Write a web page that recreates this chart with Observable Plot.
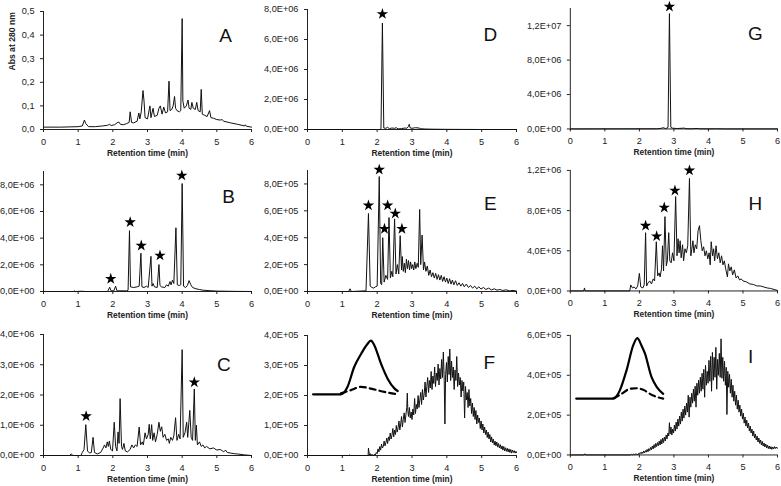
<!DOCTYPE html>
<html><head><meta charset="utf-8">
<script src="https://cdn.jsdelivr.net/npm/d3@7"></script>
<script src="https://cdn.jsdelivr.net/npm/@observablehq/plot@0.6"></script>
<style>
body{margin:0;background:#fff;}
#wrap{position:relative;width:781px;height:486px;overflow:hidden;background:#fff;}
.panel{position:absolute;}
.panel svg{overflow:visible;}
</style></head><body><div id="wrap"></div>
<script>
// ---------- DATA (time in min, values in the unit stated per panel) ----------
const xTicks = [0,1,2,3,4,5,6];
const xTitle = "Retention time (min)";
const yTitleA = "Abs at 280 nm";

// A: absorbance (AU)
const traceA = [[0,0.01],[0.5,0.01],[1.0,0.012],[1.12,0.015],[1.18,0.04],[1.22,0.025],[1.3,0.012],[1.5,0.012],[1.7,0.015],[1.85,0.018],[1.9,0.022],[1.95,0.017],[2.05,0.02],[2.12,0.028],[2.17,0.032],[2.22,0.022],[2.3,0.02],[2.4,0.025],[2.47,0.03],[2.5,0.075],[2.54,0.03],[2.6,0.028],[2.7,0.035],[2.75,0.07],[2.78,0.045],[2.82,0.075],[2.87,0.165],[2.9,0.12],[2.93,0.05],[3.0,0.045],[3.07,0.1],[3.1,0.05],[3.16,0.09],[3.2,0.055],[3.28,0.06],[3.33,0.09],[3.37,0.1],[3.42,0.065],[3.47,0.095],[3.52,0.07],[3.58,0.075],[3.62,0.205],[3.65,0.08],[3.7,0.085],[3.74,0.1],[3.78,0.14],[3.81,0.09],[3.85,0.08],[3.92,0.075],[3.96,0.08],[4.0,0.47],[4.02,0.12],[4.06,0.09],[4.12,0.1],[4.17,0.125],[4.2,0.09],[4.25,0.085],[4.28,0.115],[4.32,0.09],[4.38,0.085],[4.42,0.115],[4.46,0.08],[4.52,0.075],[4.55,0.17],[4.58,0.065],[4.65,0.06],[4.72,0.055],[4.79,0.08],[4.83,0.05],[4.9,0.048],[5.0,0.042],[5.1,0.04],[5.15,0.042],[5.2,0.035],[5.4,0.028],[5.6,0.022],[5.8,0.015],[5.82,0.02],[5.85,0.014],[6.0,0.01]];

// B: x1E+06
const traceB = [[0,0],[0.88,0],[0.9,0.05],[0.92,0],[1.1,0.02],[1.2,0],[1.85,0],[1.91,0.32],[1.95,0.05],[2.03,0.05],[2.08,0.4],[2.12,0.05],[2.4,0.05],[2.44,0.1],[2.48,4.56],[2.51,0.35],[2.6,0.3],[2.7,0.35],[2.76,0.4],[2.81,2.87],[2.84,0.35],[2.9,0.3],[2.97,0.4],[3.02,0.3],[3.1,2.64],[3.13,0.4],[3.16,0.6],[3.2,0.35],[3.28,0.3],[3.33,2.02],[3.36,0.45],[3.4,0.35],[3.5,0.3],[3.55,0.5],[3.6,0.4],[3.65,0.75],[3.68,0.5],[3.72,0.85],[3.76,0.6],[3.82,4.78],[3.86,0.5],[3.92,0.45],[3.96,0.5],[4.0,8.1],[4.04,0.4],[4.1,0.3],[4.15,0.45],[4.2,0.82],[4.25,0.5],[4.3,0.3],[4.4,0.2],[4.5,0.15],[4.6,0.1],[4.8,0.06],[5.0,0.03],[5.5,0.01],[6.0,0]];
const starsB = [[1.94,0.95],[2.5,5.2],[2.82,3.44],[3.36,2.7],[3.99,8.7]];

// C: x1E+06
const traceC = [[0,0],[0.75,0],[0.8,0.05],[0.85,0],[1.08,0],[1.12,0.1],[1.17,0.2],[1.22,1.02],[1.27,0.15],[1.33,0.08],[1.38,0.1],[1.43,0.6],[1.47,0.1],[1.55,0.05],[1.65,0.1],[1.72,0.25],[1.76,0.35],[1.8,0.25],[1.84,0.45],[1.87,0.3],[1.9,0.48],[1.94,0.2],[1.99,0.15],[2.04,1.1],[2.08,0.3],[2.12,0.15],[2.15,0.78],[2.18,0.4],[2.21,1.88],[2.25,0.3],[2.28,0.2],[2.32,0.4],[2.36,0.15],[2.42,0.12],[2.5,0.2],[2.55,0.35],[2.6,0.25],[2.65,0.35],[2.7,0.3],[2.76,0.94],[2.8,0.35],[2.85,0.45],[2.88,0.35],[2.93,0.75],[2.97,0.55],[3.02,0.7],[3.05,1.03],[3.08,0.55],[3.12,1.02],[3.15,0.5],[3.19,0.75],[3.23,0.45],[3.28,0.7],[3.33,1.1],[3.37,0.8],[3.41,0.95],[3.45,0.6],[3.5,0.7],[3.55,0.5],[3.6,0.55],[3.63,0.4],[3.67,0.6],[3.72,0.5],[3.76,0.65],[3.81,1.25],[3.85,0.5],[3.9,0.7],[3.94,0.55],[4.0,3.5],[4.03,0.6],[4.08,0.75],[4.13,1.1],[4.16,0.6],[4.22,1.49],[4.26,0.6],[4.3,0.5],[4.35,2.2],[4.38,0.5],[4.41,1.0],[4.44,0.35],[4.5,0.45],[4.55,0.3],[4.6,0.35],[4.65,0.25],[4.7,0.3],[4.8,0.22],[4.9,0.25],[5.0,0.18],[5.1,0.2],[5.2,0.12],[5.25,0.18],[5.3,0.1],[5.4,0.08],[5.5,0.06],[5.6,0.05],[5.8,0.02],[6.0,0]];
const starsC = [[1.23,1.3],[4.35,2.42]];

// D: x1E+06
const traceD = [[0,0],[2.08,0],[2.11,0.05],[2.15,7.1],[2.19,0.1],[2.25,0.08],[2.3,0.15],[2.35,0.05],[2.42,0.1],[2.5,0.08],[2.55,0.12],[2.6,0.04],[2.7,0.06],[2.8,0.1],[2.85,0.08],[2.9,0.2],[2.92,0.35],[2.95,0.1],[3.0,0.08],[3.1,0.12],[3.2,0.1],[3.25,0.05],[3.4,0.03],[3.6,0.02],[4.0,0.01],[5.0,0],[6.0,0]];
const starsD = [[2.15,7.7]];

// E: x1E+05
const traceE = [[0,0],[1.18,0],[1.22,0.2],[1.26,0],[1.68,0.05],[1.75,5.8],[1.8,0.4],[1.85,0.3],[1.9,0.25],[1.95,0.35],[2.0,0.4],[2.06,8.55],[2.1,0.6],[2.13,0.5],[2.16,4.0],[2.2,0.7],[2.25,1.2],[2.3,0.9],[2.34,5.5],[2.38,1.0],[2.42,1.5],[2.45,1.1],[2.5,5.4],[2.54,1.3],[2.58,2.0],[2.62,1.3],[2.66,4.15],[2.7,1.6],[2.72,2.6],[2.75,1.5],[2.78,2.1],[2.81,1.4],[2.84,2.4],[2.87,1.7],[2.9,2.3],[2.93,1.6],[2.96,2.2],[2.99,1.7],[3.02,2.0],[3.05,1.6],[3.08,2.2],[3.11,1.7],[3.15,2.1],[3.18,1.8],[3.22,6.1],[3.25,2.0],[3.29,4.2],[3.33,1.6],[3.36,2.2],[3.4,1.5],[3.44,1.9],[3.48,1.2],[3.52,1.6],[3.56,1.1],[3.6,1.4],[3.64,1.0],[3.68,1.35],[3.72,0.9],[3.76,1.25],[3.8,0.85],[3.84,1.2],[3.88,0.75],[3.92,1.1],[3.96,0.7],[4.0,1.0],[4.04,0.6],[4.08,0.95],[4.12,0.55],[4.16,0.85],[4.2,0.5],[4.25,0.8],[4.3,0.45],[4.35,0.65],[4.4,0.4],[4.45,0.6],[4.5,0.35],[4.56,0.55],[4.62,0.3],[4.68,0.45],[4.74,0.25],[4.8,0.4],[4.86,0.2],[4.92,0.35],[4.98,0.18],[5.05,0.3],[5.12,0.15],[5.2,0.25],[5.28,0.12],[5.36,0.2],[5.44,0.1],[5.52,0.15],[5.6,0.08],[5.7,0.12],[5.8,0.05],[5.9,0.08],[6.0,0.03]];
const starsE = [[1.75,6.4],[2.06,9.06],[2.21,4.66],[2.3,6.4],[2.52,5.8],[2.71,4.66]];

// F: x1E+05
const traceF = [[0,0],[1.18,0],[1.2,0.02],[1.22,0],[1.74,0],[1.75,0.25],[1.775,0.02],[1.8,0.06],[1.825,0.0],[1.85,0.04],[1.875,0.01],[1.9,0.0],[1.925,0.05],[1.95,0.02],[1.975,0.1],[2.0,0.06],[2.025,0.22],[2.05,0.12],[2.075,0.3],[2.1,0.18],[2.125,0.38],[2.15,0.25],[2.175,0.3],[2.2,0.48],[2.225,0.32],[2.25,0.42],[2.275,0.58],[2.3,0.4],[2.325,0.62],[2.35,0.5],[2.375,0.75],[2.4,0.55],[2.425,0.68],[2.45,0.9],[2.475,0.62],[2.5,0.85],[2.525,0.7],[2.55,1.0],[2.575,0.78],[2.6,0.92],[2.625,1.15],[2.65,0.85],[2.675,1.05],[2.7,1.3],[2.725,0.95],[2.75,1.2],[2.775,1.42],[2.8,1.1],[2.825,1.35],[2.85,1.6],[2.865,2.08],[2.88,1.5],[2.9,1.3],[2.925,1.6],[2.95,1.25],[2.975,1.45],[3.0,1.2],[3.025,1.55],[3.05,1.35],[3.075,1.9],[3.1,1.4],[3.125,1.7],[3.15,1.55],[3.175,2.0],[3.2,1.6],[3.225,1.85],[3.25,2.1],[3.275,1.7],[3.3,2.2],[3.325,1.85],[3.35,2.05],[3.375,2.45],[3.4,1.95],[3.425,2.3],[3.45,2.6],[3.475,2.1],[3.5,2.5],[3.525,2.25],[3.55,2.8],[3.575,2.2],[3.6,2.65],[3.625,2.4],[3.65,2.95],[3.675,2.3],[3.7,2.75],[3.725,2.5],[3.75,3.05],[3.775,2.35],[3.8,2.9],[3.825,2.55],[3.85,3.2],[3.875,2.6],[3.9,3.45],[3.925,2.5],[3.945,1.05],[3.965,2.7],[3.99,3.1],[4.015,2.45],[4.04,3.3],[4.065,2.7],[4.085,3.55],[4.11,2.5],[4.135,3.15],[4.16,2.6],[4.185,2.95],[4.21,2.2],[4.235,2.85],[4.26,2.5],[4.285,3.3],[4.31,2.3],[4.335,2.75],[4.36,2.35],[4.385,2.6],[4.41,1.95],[4.435,2.5],[4.46,2.15],[4.485,2.45],[4.51,1.25],[4.535,2.3],[4.56,1.85],[4.585,2.1],[4.61,1.6],[4.635,2.2],[4.66,1.65],[4.685,1.9],[4.71,1.4],[4.735,1.75],[4.76,1.3],[4.785,1.6],[4.81,1.2],[4.835,1.5],[4.86,1.05],[4.885,1.35],[4.91,1.1],[4.935,1.25],[4.96,0.9],[4.985,1.15],[5.01,0.85],[5.035,1.05],[5.06,0.75],[5.085,0.95],[5.11,0.7],[5.135,0.85],[5.16,0.6],[5.185,0.78],[5.21,0.55],[5.235,0.7],[5.26,0.45],[5.285,0.62],[5.31,0.42],[5.335,0.55],[5.36,0.35],[5.385,0.48],[5.41,0.32],[5.435,0.45],[5.46,0.28],[5.485,0.4],[5.51,0.25],[5.535,0.36],[5.56,0.22],[5.585,0.32],[5.61,0.18],[5.635,0.3],[5.66,0.15],[5.685,0.26],[5.71,0.14],[5.735,0.24],[5.76,0.12],[5.785,0.22],[5.81,0.1],[5.835,0.2],[5.86,0.08],[5.885,0.18],[5.91,0.1],[5.935,0.16],[5.96,0.08],[5.985,0.14],[6.0,0.1]];
const insetSolidF = [[0.16,2.04],[0.96,2.04],[1.05,2.1],[1.15,2.29],[1.34,2.95],[1.54,3.39],[1.71,3.7],[1.82,3.83],[1.92,3.67],[2.11,3.06],[2.3,2.56],[2.5,2.23],[2.59,2.15]];
const insetDashF = [[0.96,2.07],[1.25,2.18],[1.54,2.29],[1.82,2.23],[2.21,2.12],[2.59,2.04]];

// G: x1E+06
const traceG = [[0,0],[2.5,0.02],[2.6,0.05],[2.7,0.15],[2.75,0.05],[2.8,0.1],[2.83,0.2],[2.87,13.4],[2.91,0.2],[2.95,0.1],[3.0,0.08],[3.1,0.05],[3.3,0.1],[3.35,0.03],[3.5,0.02],[3.7,0.06],[3.72,0.02],[4.0,0.01],[4.2,0.02],[4.5,0],[6.0,0]];
const starsG = [[2.87,14.2]];

// H: x1E+06
const traceH = [[0,0],[0.39,0],[0.41,0.03],[0.43,0],[1.72,0],[1.75,0.06],[1.8,0.03],[1.85,0.04],[1.9,0.02],[1.95,0.05],[2.0,0.175],[2.04,0.04],[2.1,0.03],[2.14,0.06],[2.18,0.58],[2.21,0.05],[2.25,0.08],[2.3,0.1],[2.35,0.07],[2.4,0.12],[2.44,0.1],[2.49,0.49],[2.53,0.15],[2.57,0.18],[2.6,0.14],[2.64,0.22],[2.67,0.45],[2.7,0.2],[2.74,0.74],[2.78,0.25],[2.81,0.3],[2.85,0.58],[2.88,0.3],[2.92,0.28],[2.96,0.38],[3.0,0.3],[3.05,0.94],[3.09,0.35],[3.12,0.52],[3.15,0.38],[3.18,0.5],[3.21,0.33],[3.25,0.46],[3.28,0.3],[3.32,0.42],[3.36,0.38],[3.4,0.45],[3.45,1.12],[3.49,0.35],[3.52,0.42],[3.55,0.5],[3.58,0.38],[3.62,0.46],[3.66,0.42],[3.7,0.6],[3.74,0.65],[3.78,0.5],[3.82,0.4],[3.86,0.44],[3.9,0.35],[3.94,0.4],[3.98,0.32],[4.02,0.38],[4.05,0.26],[4.08,0.49],[4.12,0.35],[4.15,0.42],[4.18,0.3],[4.22,0.45],[4.26,0.32],[4.3,0.38],[4.34,0.28],[4.38,0.35],[4.42,0.26],[4.46,0.3],[4.5,0.22],[4.55,0.14],[4.58,0.27],[4.62,0.2],[4.66,0.24],[4.7,0.16],[4.75,0.21],[4.8,0.13],[4.85,0.15],[4.9,0.11],[4.95,0.12],[5.0,0.1],[5.1,0.09],[5.2,0.07],[5.3,0.065],[5.4,0.05],[5.5,0.05],[5.6,0.04],[5.7,0.03],[5.8,0.025],[5.9,0.015],[6.0,0.005]];
const starsH = [[2.18,0.65],[2.5,0.545],[2.72,0.83],[3.03,1.0],[3.45,1.2]];

// I: x1E+05
const traceI = [[0,0],[0.4,0],[0.42,0.06],[0.44,0],[1.74,0],[1.75,0.0],[1.775,0.03],[1.8,0.0],[1.825,0.04],[1.85,0.01],[1.875,0.06],[1.9,0.02],[1.925,0.05],[1.95,0.0],[1.975,0.08],[2.0,0.04],[2.025,0.12],[2.05,0.06],[2.075,0.15],[2.1,0.08],[2.125,0.2],[2.15,0.1],[2.175,0.22],[2.2,0.14],[2.225,0.28],[2.25,0.16],[2.275,0.32],[2.3,0.22],[2.325,0.38],[2.35,0.26],[2.375,0.45],[2.4,0.3],[2.425,0.52],[2.45,0.36],[2.475,0.58],[2.5,0.42],[2.525,0.62],[2.55,0.46],[2.575,0.7],[2.6,0.5],[2.625,0.78],[2.65,0.55],[2.675,0.85],[2.7,0.62],[2.725,0.9],[2.75,0.7],[2.775,1.0],[2.8,0.8],[2.825,1.1],[2.85,0.95],[2.87,1.62],[2.89,1.05],[2.915,1.4],[2.94,1.0],[2.965,1.3],[2.99,1.1],[3.015,1.5],[3.04,1.2],[3.065,1.65],[3.09,1.3],[3.115,1.8],[3.14,1.45],[3.165,1.95],[3.19,1.55],[3.215,2.15],[3.24,1.7],[3.265,2.3],[3.29,1.85],[3.315,2.45],[3.34,2.0],[3.365,2.6],[3.39,2.15],[3.415,3.0],[3.44,1.9],[3.465,2.9],[3.49,2.4],[3.515,3.1],[3.54,2.6],[3.565,3.3],[3.59,2.7],[3.615,3.45],[3.64,2.4],[3.665,3.6],[3.69,3.0],[3.715,3.75],[3.74,3.1],[3.765,3.9],[3.79,3.2],[3.815,4.1],[3.84,3.3],[3.865,4.3],[3.89,2.9],[3.915,4.5],[3.94,3.5],[3.965,4.2],[3.99,3.6],[4.015,4.75],[4.04,3.7],[4.065,4.95],[4.09,3.2],[4.115,5.15],[4.14,3.75],[4.165,4.9],[4.19,3.9],[4.215,5.4],[4.24,3.3],[4.265,4.8],[4.29,4.0],[4.315,5.1],[4.34,3.9],[4.365,5.83],[4.39,3.85],[4.415,4.9],[4.44,3.7],[4.465,4.7],[4.49,3.5],[4.515,4.4],[4.535,2.03],[4.56,4.2],[4.585,3.4],[4.61,4.05],[4.635,3.1],[4.66,3.8],[4.685,2.9],[4.71,3.5],[4.735,2.7],[4.76,3.2],[4.785,2.5],[4.81,3.0],[4.835,2.3],[4.86,2.75],[4.885,2.15],[4.91,2.5],[4.935,1.95],[4.96,2.3],[4.985,1.8],[5.01,2.1],[5.035,1.6],[5.06,1.9],[5.085,1.45],[5.11,1.75],[5.135,1.35],[5.16,1.6],[5.185,1.2],[5.21,1.45],[5.235,1.1],[5.26,1.3],[5.285,0.95],[5.31,1.2],[5.335,0.85],[5.36,1.05],[5.385,0.75],[5.41,0.95],[5.435,0.65],[5.46,0.85],[5.485,0.58],[5.51,0.75],[5.535,0.5],[5.56,0.68],[5.585,0.45],[5.61,0.6],[5.635,0.4],[5.66,0.55],[5.685,0.35],[5.71,0.5],[5.735,0.32],[5.76,0.45],[5.785,0.3],[5.81,0.42],[5.835,0.28],[5.86,0.4],[5.885,0.3],[5.91,0.42],[5.935,0.32],[5.96,0.4],[5.985,0.33],[6.0,0.35]];
const insetSolidI = [[0.17,2.83],[1.25,2.83],[1.34,2.95],[1.44,3.27],[1.63,4.26],[1.82,5.5],[1.94,5.87],[2.06,5.5],[2.16,5.1],[2.35,3.92],[2.5,3.42],[2.69,3.07]];
const insetDashI = [[1.25,2.85],[1.44,3.02],[1.73,3.32],[1.92,3.35],[2.11,3.27],[2.4,2.98],[2.69,2.83]];

// ---------- helpers ----------
const fmtDec = d => d.toFixed(1).replace(".", ",");
function fmtSci(d) {
  if (d === 0) return "0,0E+00";
  const e = Math.floor(Math.log10(d) + 1e-9);
  const m = d / Math.pow(10, e);
  return m.toFixed(1).replace(".", ",") + "E+" + String(e).padStart(2, "0");
}
const toRows = (arr, unit) => arr.map(([t, v]) => ({t, v: v * unit}));

const col = [{x0: 43, x1: 251}, {x0: 307, x1: 516}, {x0: 570, x1: 778}];
const rowG = [{bot: 129}, {bot: 291}, {bot: 455}];

const panels = [
  {id: "A", c: 0, r: 0, top: 11, trace: traceA, unit: 1, stars: [], dom: [0, 0.5], ticks: [0, 0.1, 0.2, 0.3, 0.4, 0.5], fmt: fmtDec, letter: [5.25, 0.398], ylabel: yTitleA},
  {id: "D", c: 1, r: 0, top: 9, trace: traceD, unit: 1e6, stars: starsD, dom: [0, 8e6], ticks: [0, 2e6, 4e6, 6e6, 8e6], fmt: fmtSci, letter: [5.25, 6.33e6]},
  {id: "G", c: 2, r: 0, top: 8, trace: traceG, unit: 1e6, stars: starsG, dom: [0, 1.4e7], ticks: [0, 4e6, 8e6, 1.2e7], fmt: fmtSci, letter: [5.36, 1.1e7]},
  {id: "B", c: 0, r: 1, top: 171, trace: traceB, unit: 1e6, stars: starsB, dom: [0, 9e6], ticks: [0, 2e6, 4e6, 6e6, 8e6], fmt: fmtSci, letter: [5.34, 7.1e6]},
  {id: "E", c: 1, r: 1, top: 170, trace: traceE, unit: 1e5, stars: starsE, dom: [0, 9e5], ticks: [0, 2e5, 4e5, 6e5, 8e5], fmt: fmtSci, letter: [5.25, 6.5e5]},
  {id: "H", c: 2, r: 1, top: 170, trace: traceH, unit: 1e6, stars: starsH, dom: [0, 1.2e6], ticks: [0, 4e5, 8e5, 1.2e6], fmt: fmtSci, letter: [5.36, 8.7e5]},
  {id: "C", c: 0, r: 2, top: 334, trace: traceC, unit: 1e6, stars: starsC, dom: [0, 4e6], ticks: [0, 1e6, 2e6, 3e6, 4e6], fmt: fmtSci, letter: [5.2, 2.98e6]},
  {id: "F", c: 1, r: 2, top: 335, trace: traceF, unit: 1e5, stars: [], dom: [0, 4e5], ticks: [0, 1e5, 2e5, 3e5, 4e5], fmt: fmtSci, letter: [5.22, 3.1e5], solid: insetSolidF, dash: insetDashF},
  {id: "I", c: 2, r: 2, top: 335, trace: traceI, unit: 1e5, stars: [], dom: [0, 6e5], ticks: [0, 2e5, 4e5, 6e5], fmt: fmtSci, letter: [5.22, 4.9e5], solid: insetSolidI, dash: insetDashI}
];

const wrap = document.getElementById("wrap");
const FONT = "'Liberation Sans', Arial, sans-serif";

for (const p of panels) {
  const cg = col[p.c], rg = rowG[p.r];
  const mL = 45, mR = 4, mT = 14, mB = 32;
  const width = cg.x1 - cg.x0 + mL + mR;
  const height = rg.bot - p.top + mT + mB;
  const marks = [
    Plot.ruleY([0], {stroke: "#222"}),
    Plot.ruleX([0], {stroke: "#222"}),
    Plot.line(toRows(p.trace, p.unit), {x: "t", y: "v", stroke: "#111", strokeWidth: 1})
  ];
  if (p.solid) {
    marks.push(Plot.line(toRows(p.solid, p.unit), {x: "t", y: "v", stroke: "#000", strokeWidth: 2.2, curve: "monotone-x"}));
    marks.push(Plot.line(toRows(p.dash, p.unit), {x: "t", y: "v", stroke: "#000", strokeWidth: 2.2, strokeDasharray: "6,4", curve: "monotone-x"}));
  }
  if (p.stars.length) {
    marks.push(Plot.dot(toRows(p.stars, p.unit), {x: "t", y: "v", symbol: "star", fill: "#000", stroke: "none", r: 3.6}));
  }
  marks.push(Plot.text([{t: p.letter[0], v: p.letter[1]}], {x: "t", y: "v", text: () => p.id, fontSize: 19, fill: "#111"}));
  marks.push(Plot.text([xTitle], {frameAnchor: "bottom", dy: 26.5, fontWeight: "bold", fontSize: 8.4, fill: "#222"}));
  if (p.ylabel) {
    marks.push(Plot.text([p.ylabel], {frameAnchor: "left", dx: -31, rotate: -90, fontWeight: "bold", fontSize: 8.6, fill: "#222"}));
  }
  const svg = Plot.plot({
    width, height,
    marginLeft: mL, marginRight: mR, marginTop: mT, marginBottom: mB,
    style: {background: "transparent", fontFamily: FONT, fontSize: "9.2px", color: "#222", overflow: "visible"},
    x: {domain: [0, 6], ticks: xTicks, tickSize: 3, tickPadding: 6, tickFormat: d => String(d), label: null},
    y: {domain: p.dom, ticks: p.ticks, tickSize: 3, tickPadding: 6, tickFormat: p.fmt, label: null},
    marks
  });
  const div = document.createElement("div");
  div.className = "panel";
  div.style.left = (cg.x0 - mL) + "px";
  div.style.top = (p.top - mT) + "px";
  div.appendChild(svg);
  wrap.appendChild(div);
}
</script></body></html>
